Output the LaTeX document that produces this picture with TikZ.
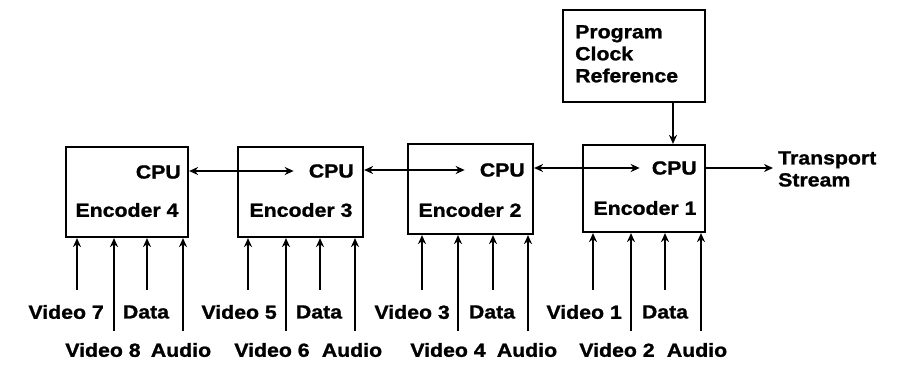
\documentclass[tikz,border=0pt]{standalone}
\usepackage{fontspec}
\setmainfont{Liberation Sans}[FakeStretch=1.12,FakeBold=1.2]
\usetikzlibrary{arrows.meta}
\begin{document}
\begin{tikzpicture}[x=1pt,y=-1pt,
  font=\fontsize{19}{22}\selectfont\bfseries,
  box/.style={draw, line width=2.2pt, inner sep=0pt},
  lbl/.style={inner sep=0pt},
  conn/.style={line width=2pt, -{Stealth[length=9pt,width=8pt]}},
  biconn/.style={line width=2pt, {Stealth[length=9pt,width=8pt]}-{Stealth[length=9pt,width=8pt]}}]
\useasboundingbox (0,0) rectangle (900,366);

% boxes
\node[box, minimum width=122pt, minimum height=90pt] (e4) at (127,192) {};
\node[box, minimum width=125pt, minimum height=90pt] (e3) at (300.5,192) {};
\node[box, minimum width=125pt, minimum height=90pt] (e2) at (470.5,189) {};
\node[box, minimum width=122pt, minimum height=87pt] (e1) at (644,188.5) {};
\node[box, minimum width=142pt, minimum height=92pt] (pcr) at (634,56) {};

% texts in boxes
\node[lbl, anchor=east] (c4) at (181,172) {CPU};
\node[lbl, anchor=east] (c3) at (354,171) {CPU};
\node[lbl, anchor=east] (c2) at (525,170) {CPU};
\node[lbl, anchor=east] (c1) at (697,168) {CPU};
\node[lbl] (n4) at (127,210) {Encoder 4};
\node[lbl] (n3) at (301,210) {Encoder 3};
\node[lbl] (n2) at (470,210) {Encoder 2};
\node[lbl] (n1) at (645,208) {Encoder 1};
\node[lbl, anchor=north west, align=left] (pt) at (575,25) {Program\\Clock\\Reference};
\node[lbl, anchor=west, align=left] (ts) at (778,169) {Transport\\Stream};

% CPU links
\draw[biconn] (c3.west -| e4.east) -- ([xshift=-15pt]c3.west);
\draw[biconn] (c2.west -| e3.east) -- ([xshift=-15pt]c2.west);
\draw[biconn] (c1.west -| e2.east) -- ([xshift=-12pt]c1.west);
\draw[conn] (c1.east -| e1.east) -- ([xshift=-5pt]c1.east -| ts.west);
\draw[conn] ([xshift=39pt]pcr.south) -- ([xshift=39pt]pcr.south |- e1.north);

% inputs
\foreach \b/\x/\y [count=\i] in {e4/77/290, e4/114/331, e4/147/290, e4/183/331,
  e3/248/290, e3/286/331, e3/320/290, e3/355/331,
  e2/422/290, e2/458/331, e2/493/290, e2/528/331,
  e1/593/290, e1/631/331, e1/665/290, e1/701/331} {
  \coordinate (p\i) at (\x,\y);
  \draw[conn] (p\i) -- (p\i |- \b.south);
}

% labels
\node[lbl, anchor=east] (v7) at (104,312) {Video 7};
\node[lbl] (d4) at (146,312) {Data};
\node[lbl] (v8) at (103,350) {Video 8};
\node[lbl] (a4) at (181,350) {Audio};

\node[lbl, anchor=east] (v5) at (277,312) {Video 5};
\node[lbl] (d3) at (319,312) {Data};
\node[lbl] (v6) at (272,350) {Video 6};
\node[lbl] (a3) at (352,350) {Audio};

\node[lbl, anchor=east] (v3) at (450,312) {Video 3};
\node[lbl] (d2) at (492,312) {Data};
\node[lbl] (v4) at (448,350) {Video 4};
\node[lbl] (a2) at (527,350) {Audio};

\node[lbl, anchor=east] (v1) at (622,312) {Video 1};
\node[lbl] (d1) at (665,312) {Data};
\node[lbl] (v2) at (617,350) {Video 2};
\node[lbl] (a1) at (697,350) {Audio};
\end{tikzpicture}
\end{document}
